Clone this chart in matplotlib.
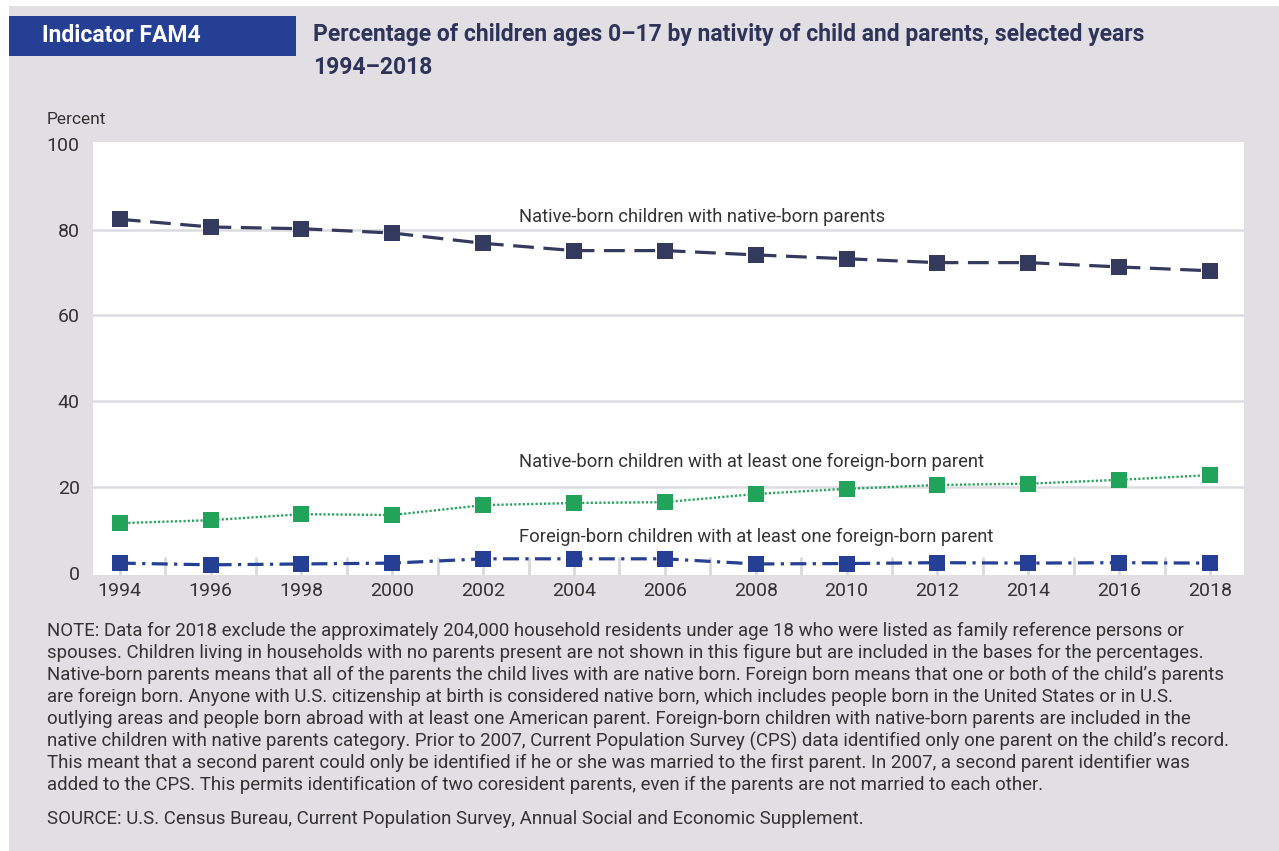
import numpy as np
import matplotlib.pyplot as plt
from matplotlib.patches import Rectangle

# data
years = [1994, 1996, 1998, 2000, 2002, 2004, 2006, 2008, 2010, 2012, 2014, 2016, 2018]
native_native = [82.4, 80.6, 80.2, 79.2, 76.8, 75.1, 75.1, 74.1, 73.2, 72.3, 72.3, 71.3, 70.4]
native_foreign = [11.6, 12.3, 13.7, 13.5, 15.8, 16.3, 16.5, 18.4, 19.6, 20.5, 20.8, 21.7, 22.8]
foreign_foreign = [2.3, 1.9, 2.1, 2.3, 3.3, 3.3, 3.3, 2.1, 2.2, 2.4, 2.3, 2.4, 2.3]

series_labels = ["Native-born children with native-born parents",
                 "Native-born children with at least one foreign-born parent",
                 "Foreign-born children with at least one foreign-born parent"]
label_pos = [(2002.78, 82.9), (2002.78, 25.9), (2002.78, 8.4)]

note_lines = [
    "NOTE: Data for 2018 exclude the approximately 204,000 household residents under age 18 who were listed as family reference persons or",
    "spouses. Children living in households with no parents present are not shown in this figure but are included in the bases for the percentages.",
    "Native-born parents means that all of the parents the child lives with are native born. Foreign born means that one or both of the child\u2019s parents",
    "are foreign born. Anyone with U.S. citizenship at birth is considered native born, which includes people born in the United States or in U.S.",
    "outlying areas and people born abroad with at least one American parent. Foreign-born children with native-born parents are included in the",
    "native children with native parents category. Prior to 2007, Current Population Survey (CPS) data identified only one parent on the child\u2019s record.",
    "This meant that a second parent could only be identified if he or she was married to the first parent. In 2007, a second parent identifier was",
    "added to the CPS. This permits identification of two coresident parents, even if the parents are not married to each other.",
]
source = "SOURCE: U.S. Census Bureau, Current Population Survey, Annual Social and Economic Supplement."

plt.rcParams['font.family'] = ['Roboto', 'DejaVu Sans']

W, H = 1279, 851
bg = '#e1dfe4'
navy = '#333a5e'
green = '#22a35a'
blue = '#243f93'
txt = '#333333'

fig = plt.figure(figsize=(W / 100, H / 100), dpi=100, facecolor='white')
fig.patches.append(Rectangle((9 / W, 0), 1, 1 - 6 / H, transform=fig.transFigure,
                             facecolor=bg, edgecolor='none', zorder=-10))


def px(x, y):
    return x / W, 1 - y / H


# header
fig.patches.append(Rectangle(px(9, 56), 287 / W, 40 / H, transform=fig.transFigure,
                             facecolor=blue, edgecolor='none', zorder=-5))
fig.text(*px(42, 36), "Indicator FAM4", color='white', fontsize=16.5, fontweight='bold', va='center')
fig.text(*px(313, 35), "Percentage of children ages 0\u201317 by nativity of child and parents, selected years",
         color='#2e3359', fontsize=16.5, fontweight='bold', va='center')
fig.text(*px(313, 68), "1994\u20132018", color='#2e3359', fontsize=16.5, fontweight='bold', va='center')
fig.text(*px(47, 119), "Percent", color=txt, fontsize=12.5, va='center')

ax = fig.add_axes([93 / W, 1 - 575 / H, 1151 / W, 433 / H])
ax.set_facecolor('white')
for s in ax.spines.values():
    s.set_visible(False)

ax.set_xlim(1993.41, 2018.75)
ax.set_ylim(-0.47, 100.4)
ax.set_yticks([0, 20, 40, 60, 80, 100])
ax.set_xticks(years)
ax.set_xticks(np.arange(1995, 2018, 2), minor=True)
ax.tick_params(axis='x', which='both', direction='in', length=13, width=2, color='#dad9de',
               labelsize=14, labelcolor=txt, pad=5)
ax.tick_params(axis='y', length=0, labelsize=14, labelcolor=txt, pad=9.5)
for g in [20, 40, 60, 80]:
    ax.axhline(g, color='#dcdbe0', lw=1.8, zorder=1)

ms = 11.5
ax.plot(years, native_native, color=navy, lw=2.3, dashes=(6.5, 3), marker='s', ms=ms,
        mew=0, zorder=3, clip_on=False)
ax.plot(years, native_foreign, color=green, lw=1.7, dashes=(0.9, 0.9), marker='s', ms=ms,
        mew=0, zorder=3, clip_on=False)
ax.plot(years, foreign_foreign, color=blue, lw=2.3, dashes=(5, 2, 1, 2), marker='s', ms=ms,
        mew=0, zorder=3, clip_on=False)

for lab, (lx, ly) in zip(series_labels, label_pos):
    ax.text(lx, ly, lab, color=txt, fontsize=13.2, va='center', ha='left')

for i, line in enumerate(note_lines):
    fig.text(*px(47, 631 + 22 * i), line, color=txt, fontsize=13.4, va='center')
fig.text(*px(47, 819), source, color=txt, fontsize=13.4, va='center')

fig.savefig('out.png', dpi=100, facecolor=fig.get_facecolor())
